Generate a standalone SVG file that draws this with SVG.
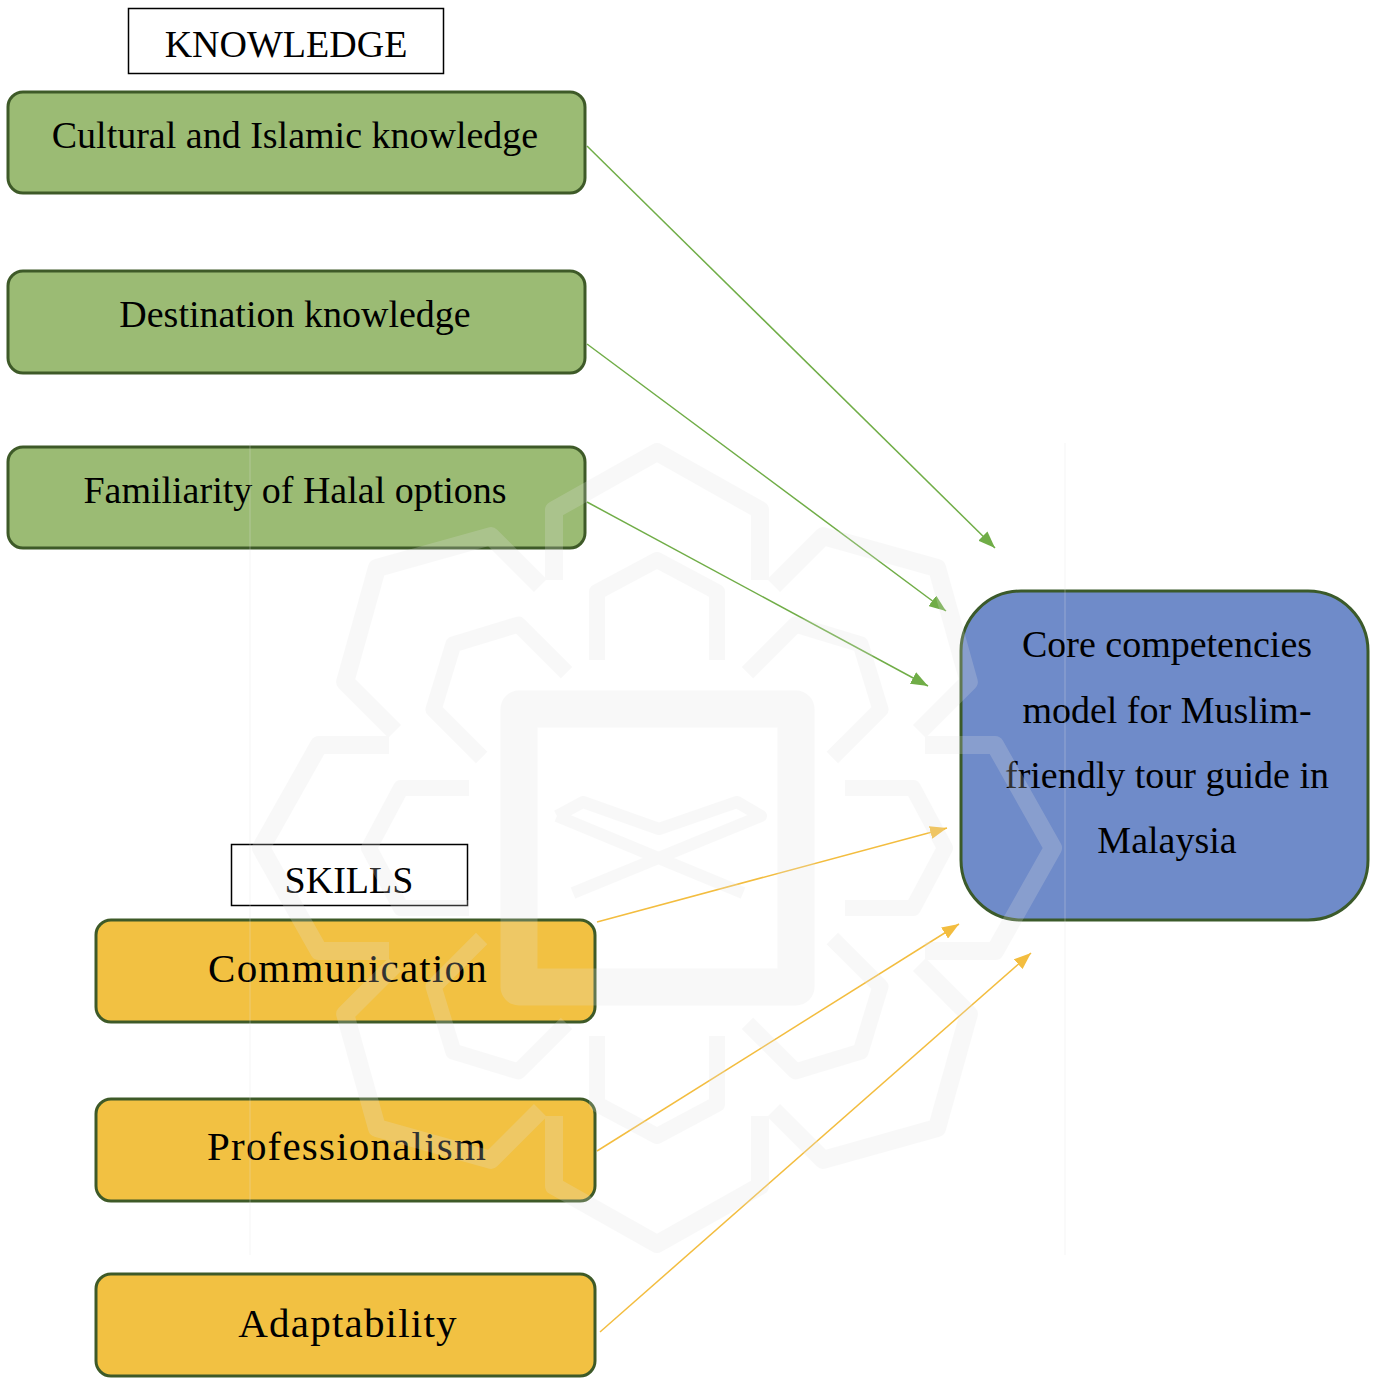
<svg xmlns="http://www.w3.org/2000/svg" width="1375" height="1378" viewBox="0 0 1375 1378">
<style>
  .lbl { font-family: "Liberation Serif", "Times New Roman", serif; font-size: 38px; fill: #000; text-anchor: middle; }
  .sk { font-size: 41px; letter-spacing: 1.2px; }
  .hdr { fill: #fff; stroke: #000; stroke-width: 1.5; }
  .kn { fill: #9bbb74; stroke: #3e5a28; stroke-width: 3; }
  .sb { fill: #f2c142; stroke: #3e5a28; stroke-width: 3; }
  .core { fill: #6f8bc9; stroke: #3b5a2a; stroke-width: 3; }
  .cg { stroke: #70ad47; stroke-width: 1.5; fill: none; }
  .cy { stroke: #f3bd3f; stroke-width: 1.5; fill: none; }
</style>
<defs>
  <marker id="ag" markerUnits="userSpaceOnUse" markerWidth="17" markerHeight="13" refX="17" refY="6.5" orient="auto">
    <path d="M0,0 L17,6.5 L0,13 z" fill="#70ad47"/>
  </marker>
  <marker id="ay" markerUnits="userSpaceOnUse" markerWidth="17" markerHeight="13" refX="17" refY="6.5" orient="auto">
    <path d="M0,0 L17,6.5 L0,13 z" fill="#f3bd3f"/>
  </marker>
  <g id="petal">
    <path d="M-103,-268 L-103,-338 L0,-396 L103,-338 L103,-268" stroke-width="18"/>
    <path d="M-60,-188 L-60,-256 L0,-288 L60,-256 L60,-188" stroke-width="16"/>
  </g>
</defs>
<rect x="0" y="0" width="1375" height="1378" fill="#fff"/>

<g id="connectors">
  <line class="cg" x1="587" y1="146" x2="995" y2="548" marker-end="url(#ag)"/>
  <line class="cg" x1="587" y1="344" x2="946" y2="611" marker-end="url(#ag)"/>
  <line class="cg" x1="587" y1="502" x2="928" y2="686" marker-end="url(#ag)"/>
  <line class="cy" x1="597" y1="922" x2="947" y2="828" marker-end="url(#ay)"/>
  <line class="cy" x1="597" y1="1151" x2="959" y2="924" marker-end="url(#ay)"/>
  <line class="cy" x1="600" y1="1332" x2="1031" y2="953" marker-end="url(#ay)"/>
</g>

<g id="knowledge-header">
  <rect class="hdr" x="128.5" y="8.5" width="315" height="65"/>
  <text class="lbl" x="286" y="57">KNOWLEDGE</text>
</g>
<g id="cultural-islamic">
  <rect class="kn" x="8" y="92" width="577" height="101" rx="15"/>
  <text class="lbl" x="295" y="148">Cultural and Islamic knowledge</text>
</g>
<g id="destination">
  <rect class="kn" x="8" y="271" width="577" height="102" rx="15"/>
  <text class="lbl" x="295" y="327">Destination knowledge</text>
</g>
<g id="halal">
  <rect class="kn" x="8" y="447" width="577" height="101" rx="15"/>
  <text class="lbl" x="295" y="503">Familiarity of Halal options</text>
</g>

<g id="core">
  <rect class="core" x="961" y="591" width="407" height="329" rx="60"/>
  <text class="lbl" x="1167" y="657">Core competencies</text>
  <text class="lbl" x="1167" y="723">model for Muslim-</text>
  <text class="lbl" x="1167" y="788">friendly tour guide in</text>
  <text class="lbl" x="1167" y="853">Malaysia</text>
</g>

<g id="skills-header">
  <rect class="hdr" x="231.5" y="844.5" width="236" height="61"/>
  <text class="lbl" x="349" y="893">SKILLS</text>
</g>
<g id="communication">
  <rect class="sb" x="96" y="920" width="499" height="102" rx="15"/>
  <text class="lbl sk" x="348" y="982">Communication</text>
</g>
<g id="professionalism">
  <rect class="sb" x="96" y="1099" width="499" height="102" rx="15"/>
  <text class="lbl sk" x="347" y="1160">Professionalism</text>
</g>
<g id="adaptability">
  <rect class="sb" x="96" y="1274" width="499" height="102" rx="15"/>
  <text class="lbl sk" x="348" y="1337">Adaptability</text>
</g>

<g id="watermark" opacity="0.22" fill="none" stroke="#e2e2e2" stroke-linejoin="round">
  <line x1="250" y1="443" x2="250" y2="1255" stroke-width="1.5"/>
  <line x1="1065" y1="443" x2="1065" y2="1255" stroke-width="1.5"/>
  <g transform="translate(657,848)">
    <use href="#petal"/>
    <use href="#petal" transform="rotate(45)"/>
    <use href="#petal" transform="rotate(90)"/>
    <use href="#petal" transform="rotate(135)"/>
    <use href="#petal" transform="rotate(180)"/>
    <use href="#petal" transform="rotate(225)"/>
    <use href="#petal" transform="rotate(270)"/>
    <use href="#petal" transform="rotate(315)"/>
    <rect x="-138" y="-139" width="277" height="278" stroke-width="37"/>
    <path d="M-100,-32 L-74,-46 L2,-19 L80,-46 L104,-32 L-84,45 M-100,-32 L86,45" stroke-width="12"/>
  </g>
</g>
</svg>
